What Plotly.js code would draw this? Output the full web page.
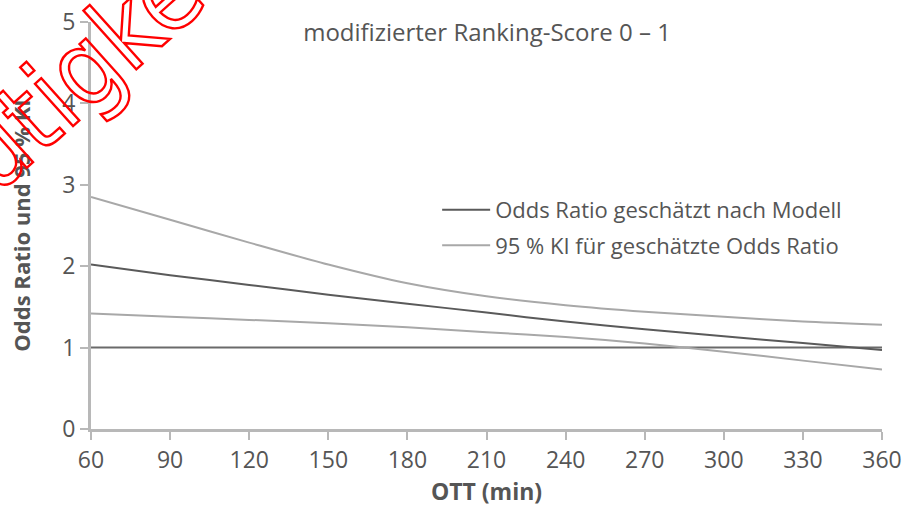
<!DOCTYPE html>
<html>
<head>
<meta charset="utf-8">
<script src="https://cdn.plot.ly/plotly-3.0.1.min.js"></script>
<style>
  html, body { margin: 0; padding: 0; background: #fff; }
  #chart { width: 907px; height: 507px; }
  .annotation-text { fill: none !important; stroke: #ff0000; stroke-width: 2.4px; }
</style>
</head>
<body>
<div id="chart"></div>
<script>
// OTT in minutes
var ottMin = [60, 90, 120, 150, 180, 210, 240, 270, 300, 330, 360];
// Estimated odds ratio (model)
var oddsRatio = [2.02, 1.89, 1.77, 1.65, 1.54, 1.43, 1.32, 1.225, 1.14, 1.055, 0.97];
// 95 % CI upper and lower bound
var ciUpper = [2.85, 2.57, 2.29, 2.02, 1.79, 1.63, 1.52, 1.44, 1.38, 1.32, 1.28];
var ciLower = [1.42, 1.38, 1.34, 1.30, 1.25, 1.19, 1.13, 1.05, 0.95, 0.84, 0.73];
// Reference line OR = 1
var refX = [60, 360];
var refY = [1, 1];

var xTicks = [60, 90, 120, 150, 180, 210, 240, 270, 300, 330, 360];
var yTicks = [0, 1, 2, 3, 4, 5];

var titleText = "modifizierter Ranking-Score 0 – 1";
var legendOR = "Odds Ratio geschätzt nach Modell";
var legendCI = "95 % KI für geschätzte Odds Ratio";
var xTitle = "OTT (min)";
var yTitle = "Odds Ratio und 95 % KI";
var watermark = "utigke";

var FONT = "Open Sans, Noto Sans, sans-serif";
var WFONT = "Liberation Sans Narrow, DejaVu Sans Condensed, Open Sans, sans-serif";
var TXT = "#555555";
var AX = "#b8b8b8";

var traces = [
  { x: refX, y: refY, mode: "lines", line: { color: "#6a6a6a", width: 2 }, showlegend: false, hoverinfo: "skip" },
  { x: ottMin, y: ciLower, mode: "lines", line: { color: "#a8a8a8", width: 2, shape: "spline", smoothing: 0.8 }, showlegend: false, legendgroup: "ci" },
  { x: ottMin, y: oddsRatio, mode: "lines", name: legendOR, line: { color: "#5a5a5a", width: 2, shape: "spline", smoothing: 0.8 }, legendgroup: "or" },
  { x: ottMin, y: ciUpper, mode: "lines", name: legendCI, line: { color: "#a8a8a8", width: 2, shape: "spline", smoothing: 0.8 }, legendgroup: "ci" }
];

var layout = {
  width: 907, height: 507,
  margin: { l: 91, r: 25, t: 22, b: 78, pad: 0 },
  paper_bgcolor: "#ffffff", plot_bgcolor: "#ffffff",
  font: { family: FONT, color: TXT },
  title: { text: titleText, font: { family: FONT, size: 24, color: TXT }, x: 0.537, xanchor: "center", y: 0.935, yanchor: "middle" },
  showlegend: true,
  legend: {
    x: 0.4376, y: 0.59, xanchor: "left", yanchor: "top",
    bgcolor: "rgba(0,0,0,0)", borderwidth: 0,
    font: { family: FONT, size: 22, color: TXT },
    traceorder: "grouped", tracegroupgap: 4, itemwidth: 48
  },
  xaxis: {
    range: [60, 360], tickvals: xTicks, ticktext: xTicks.map(String),
    showgrid: false, zeroline: false,
    showline: true, linecolor: AX, linewidth: 3,
    ticks: "outside", ticklen: 8, tickwidth: 1.5, tickcolor: AX,
    tickfont: { family: FONT, size: 23, color: TXT },
    title: { text: "<b>" + xTitle + "</b>", font: { family: FONT, size: 23, color: TXT }, standoff: 8 }
  },
  yaxis: {
    range: [0, 5], tickvals: yTicks, ticktext: yTicks.map(String),
    showgrid: false, zeroline: false,
    showline: true, linecolor: AX, linewidth: 3,
    ticks: "outside", ticklen: 8, tickwidth: 1.5, tickcolor: AX,
    tickfont: { family: FONT, size: 23, color: TXT },
    title: { text: "<b>" + yTitle + "</b>", font: { family: FONT, size: 22, color: TXT }, standoff: 26 }
  },
  annotations: [
    { text: watermark, xref: "paper", yref: "paper", x: -0.016, y: 0.875, xanchor: "center", yanchor: "middle",
      showarrow: false, textangle: -42, font: { family: WFONT, size: 104, color: "#ff0000" } }
  ]
};

Plotly.newPlot("chart", traces, layout, { displayModeBar: false, responsive: false });
</script>
</body>
</html>
